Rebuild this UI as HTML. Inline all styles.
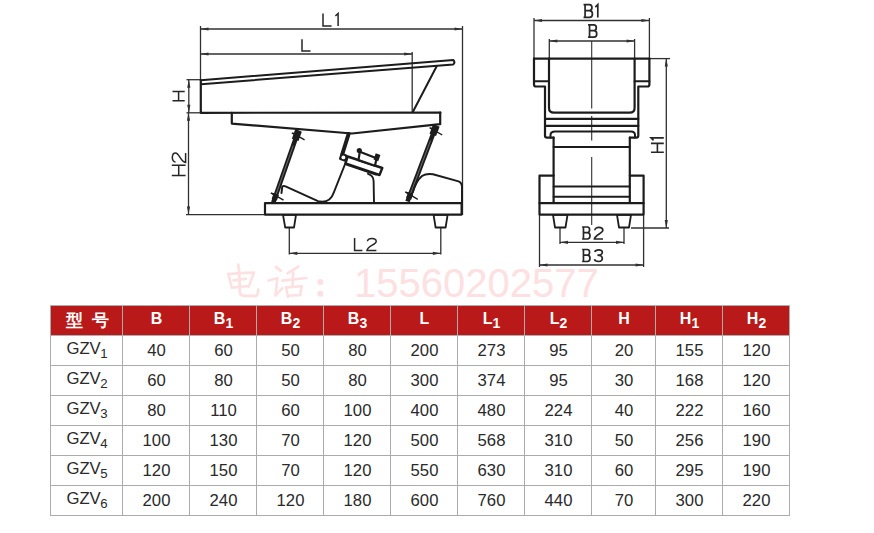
<!DOCTYPE html>
<html><head><meta charset="utf-8">
<style>
html,body{margin:0;padding:0;background:#fff;}
body{width:874px;height:533px;position:relative;overflow:hidden;font-family:"Liberation Sans",sans-serif;}
.c{position:absolute;box-sizing:border-box;text-align:center;white-space:nowrap;padding-left:2px;}
.hbg{position:absolute;background:#b91919;}
.h{color:#fff;font-weight:bold;font-size:16px;line-height:28px;}
.h sub{font-size:14px;vertical-align:-4px;line-height:0;}
.cn{font-weight:bold;font-size:16.5px;line-height:30px;}
.sp{display:inline-block;width:9px;}
.d{color:#2a2a2a;font-size:16.7px;line-height:30px;}
.d span{position:relative;top:1px;}
.g{line-height:28px;}
.d sub{font-size:13.2px;vertical-align:-4px;line-height:0;margin-left:-0.5px;}
.vl{position:absolute;width:1px;background:#ababab;}
.hl{position:absolute;height:1px;background:#ababab;}
.hl0{background:#a9b2b2;}
svg{position:absolute;left:0;top:0;}
.wm{position:absolute;left:354px;top:259px;white-space:nowrap;color:#fde0e1;line-height:48px;}
.wmc{font-family:"Liberation Serif",serif;font-size:38px;}
.wmd{font-family:"Liberation Sans",sans-serif;font-size:40px;}
</style></head><body>
<svg width="874" height="300" viewBox="0 0 874 300">
<circle cx="320.3" cy="293.7" r="3" fill="#fde0e1"/>
<circle cx="320.3" cy="282" r="3" fill="#fde0e1"/>
<path d="M288,295.8 L300,295" stroke="#fde0e1" stroke-width="2.6" fill="none" stroke-linecap="round" stroke-linejoin="round"/>
<path d="M286.2,287.4 L301.8,286.3 L300,295.3" stroke="#fde0e1" stroke-width="2.6" fill="none" stroke-linecap="round" stroke-linejoin="round"/>
<path d="M286.2,287.4 L288,297" stroke="#fde0e1" stroke-width="2.6" fill="none" stroke-linecap="round" stroke-linejoin="round"/>
<path d="M293.2,272.8 L292.6,285.6" stroke="#fde0e1" stroke-width="2.6" fill="none" stroke-linecap="round" stroke-linejoin="round"/>
<path d="M282.2,280.6 L306.4,278" stroke="#fde0e1" stroke-width="2.6" fill="none" stroke-linecap="round" stroke-linejoin="round"/>
<path d="M298.4,266.4 Q293,270.5 287.4,273.4" stroke="#fde0e1" stroke-width="2.6" fill="none" stroke-linecap="round" stroke-linejoin="round"/>
<path d="M268.6,280.6 L277.4,278.2 L275.4,295.6 L282.4,288.2" stroke="#fde0e1" stroke-width="2.6" fill="none" stroke-linecap="round" stroke-linejoin="round"/>
<path d="M276.2,267.2 L280.6,270.6" stroke="#fde0e1" stroke-width="3" fill="none" stroke-linecap="round" stroke-linejoin="round"/>
<path d="M238.2,264.6 Q239.6,272 239.8,292 Q240,295.6 244,295.8 L256,296 Q257.6,295 258.4,289.6" stroke="#fde0e1" stroke-width="2.8" fill="none" stroke-linecap="round" stroke-linejoin="round"/>
<path d="M231.8,287.6 L248.8,286" stroke="#fde0e1" stroke-width="2.6" fill="none" stroke-linecap="round" stroke-linejoin="round"/>
<path d="M233.4,280.4 L245.8,278.9" stroke="#fde0e1" stroke-width="2.6" fill="none" stroke-linecap="round" stroke-linejoin="round"/>
<path d="M228.3,274 Q241,273 254,272.6 L248.8,286.6" stroke="#fde0e1" stroke-width="2.6" fill="none" stroke-linecap="round" stroke-linejoin="round"/>
<path d="M228.3,274 L231.8,287.8" stroke="#fde0e1" stroke-width="2.6" fill="none" stroke-linecap="round" stroke-linejoin="round"/>
<line x1="200.5" y1="29" x2="462.5" y2="29" stroke="#303030" stroke-width="1.3" />
<path d="M200.5,29.0 L208.5,27.4 L208.5,30.6 Z" fill="#303030"/>
<path d="M462.5,29.0 L454.5,30.6 L454.5,27.4 Z" fill="#303030"/>
<line x1="200.5" y1="54" x2="412.2" y2="54" stroke="#303030" stroke-width="1.3" />
<path d="M200.5,54.0 L208.5,52.4 L208.5,55.6 Z" fill="#303030"/>
<path d="M412.2,54.0 L404.2,55.6 L404.2,52.4 Z" fill="#303030"/>
<line x1="200.5" y1="26" x2="200.5" y2="80" stroke="#303030" stroke-width="1.3" />
<line x1="462.5" y1="26" x2="462.5" y2="215" stroke="#303030" stroke-width="1.3" />
<line x1="412.2" y1="52" x2="412.2" y2="112.5" stroke="#303030" stroke-width="1.3" />
<line x1="186.5" y1="79.7" x2="200.5" y2="79.7" stroke="#303030" stroke-width="1.3" />
<line x1="186.5" y1="112.8" x2="200.5" y2="112.8" stroke="#303030" stroke-width="1.3" />
<line x1="188.8" y1="79.7" x2="188.8" y2="112.8" stroke="#303030" stroke-width="1.3" />
<path d="M188.8,79.7 L190.4,87.7 L187.2,87.7 Z" fill="#303030"/>
<path d="M188.8,112.8 L187.2,104.8 L190.4,104.8 Z" fill="#303030"/>
<line x1="188.5" y1="112.8" x2="188.5" y2="214.6" stroke="#303030" stroke-width="1.3" />
<path d="M188.5,112.8 L190.1,120.8 L186.9,120.8 Z" fill="#303030"/>
<path d="M188.5,214.6 L186.9,206.6 L190.1,206.6 Z" fill="#303030"/>
<line x1="186" y1="214.6" x2="265" y2="214.6" stroke="#303030" stroke-width="1.3" />
<line x1="289.3" y1="227.5" x2="289.3" y2="254.5" stroke="#303030" stroke-width="1.3" />
<line x1="440.8" y1="227.5" x2="440.8" y2="254.5" stroke="#303030" stroke-width="1.3" />
<line x1="289.3" y1="253.3" x2="440.8" y2="253.3" stroke="#303030" stroke-width="1.3" />
<path d="M289.3,253.3 L297.3,251.7 L297.3,254.9 Z" fill="#303030"/>
<path d="M440.8,253.3 L432.8,254.9 L432.8,251.7 Z" fill="#303030"/>
<path d="M200.8,80.2 L453.3,59.9 Q455.5,62.2 453.3,64.4 L201.2,84.2" stroke="#1c1c1c" stroke-width="2" fill="none" stroke-linejoin="round" stroke-linecap="round" />
<path d="M200.8,80.2 L200.8,112.8 L440.4,112.6" stroke="#1c1c1c" stroke-width="2.2" fill="none" stroke-linejoin="round" stroke-linecap="round" />
<path d="M436.8,66 L412.8,112" stroke="#1c1c1c" stroke-width="2" fill="none" stroke-linejoin="round" stroke-linecap="round" />
<path d="M231.8,112.8 L231.8,123.6 L352,133.5 L440.2,124.2 L440.2,112.6" stroke="#1c1c1c" stroke-width="2.2" fill="none" stroke-linejoin="round" stroke-linecap="round" />
<line x1="298.5" y1="130.5" x2="273.3" y2="202.5" stroke="#1c1c1c" stroke-width="4.6"/>
<line x1="293.2" y1="145.6" x2="275.9" y2="194.9" stroke="#fff" stroke-width="0.9" opacity="0.4"/>
<line x1="293.2" y1="133.4" x2="304.6" y2="139.9" stroke="#1c1c1c" stroke-width="1.4"/>
<line x1="291.8" y1="132.9" x2="298.9" y2="135.4" stroke="#1c1c1c" stroke-width="1.6"/>
<line x1="272.2" y1="193.6" x2="283.5" y2="200.1" stroke="#1c1c1c" stroke-width="1.4"/>
<line x1="270.8" y1="193.1" x2="277.8" y2="195.6" stroke="#1c1c1c" stroke-width="1.6"/>
<line x1="298.5" y1="130.5" x2="295.2" y2="139.9" stroke="#1c1c1c" stroke-width="7"/>
<line x1="276.3" y1="194.0" x2="274.3" y2="199.7" stroke="#1c1c1c" stroke-width="5.5"/>
<line x1="436.3" y1="125.5" x2="407.5" y2="201.5" stroke="#1c1c1c" stroke-width="4.6"/>
<line x1="430.6" y1="140.5" x2="410.3" y2="194.0" stroke="#fff" stroke-width="0.9" opacity="0.4"/>
<line x1="431.0" y1="128.3" x2="442.2" y2="135.0" stroke="#1c1c1c" stroke-width="1.4"/>
<line x1="429.6" y1="127.8" x2="436.6" y2="130.4" stroke="#1c1c1c" stroke-width="1.6"/>
<line x1="406.6" y1="192.6" x2="417.8" y2="199.4" stroke="#1c1c1c" stroke-width="1.4"/>
<line x1="405.2" y1="192.1" x2="412.2" y2="194.7" stroke="#1c1c1c" stroke-width="1.6"/>
<line x1="436.3" y1="125.5" x2="432.8" y2="134.9" stroke="#1c1c1c" stroke-width="7"/>
<line x1="410.7" y1="193.1" x2="408.6" y2="198.7" stroke="#1c1c1c" stroke-width="5.5"/>
<path d="M348.6,134 L342.2,154.5" stroke="#1c1c1c" stroke-width="4" fill="none" stroke-linejoin="round" stroke-linecap="round" />
<rect x="339.6" y="153.6" width="7.4" height="7.4" rx="1.5" fill="#1c1c1c" transform="rotate(20 343.3 157.3)"/>
<circle cx="343.4" cy="157.4" r="1.9" fill="#fff"/>
<path d="M347.7,156.5 L382.3,168 L379.5,175 L345.5,163.3 Z" stroke="#1c1c1c" stroke-width="2.4" fill="#fff" stroke-linejoin="round" stroke-linecap="round" />
<path d="M346.5,164.5 L376,174.5" stroke="#1c1c1c" stroke-width="2.2" fill="none" stroke-linejoin="round" stroke-linecap="round" />
<path d="M359.8,151.8 L376.5,158.2 L375,165.7 L358.5,160.1 Z" stroke="#1c1c1c" stroke-width="2.2" fill="#fff" stroke-linejoin="round" stroke-linecap="round" />
<circle cx="359.3" cy="150.6" r="2.6" fill="#1c1c1c"/>
<rect x="374.5" y="154" width="5" height="6.5" fill="#1c1c1c" transform="rotate(20 377 157.2)"/>
<path d="M368,173.8 Q373.5,175.5 373.6,181 L374,202.3" stroke="#1c1c1c" stroke-width="1.9" fill="none" stroke-linejoin="round" stroke-linecap="round" />
<path d="M281.5,193 L282.3,186.4 Q284,185.6 285.5,186.4 L318,201.2 Q330,204 334,192 L345.3,163.5" stroke="#1c1c1c" stroke-width="2" fill="none" stroke-linejoin="round" stroke-linecap="round" />
<path d="M412.8,192.5 Q416,181 422,176 Q426,173.2 433,174.2 L458.6,181.4 Q462,183 462,187 L462,202.5" stroke="#1c1c1c" stroke-width="2" fill="none" stroke-linejoin="round" stroke-linecap="round" />
<path d="M265,203.2 L461.6,203.2 L461.6,214.6 L265,214.6 Z" stroke="#1c1c1c" stroke-width="2.2" fill="none" stroke-linejoin="round" stroke-linecap="round" />
<path d="M283,214.8 L296,214.8 L294,227.5 L285.2,227.5 Z" stroke="#1c1c1c" stroke-width="1.8" fill="none" stroke-linejoin="round" stroke-linecap="round" />
<path d="M433.6,214.8 L447.6,214.8 L445.6,227.5 L435.6,227.5 Z" stroke="#1c1c1c" stroke-width="1.8" fill="none" stroke-linejoin="round" stroke-linecap="round" />
<line x1="534" y1="20.5" x2="649.4" y2="20.5" stroke="#303030" stroke-width="1.3" />
<path d="M534.0,20.5 L542.0,18.9 L542.0,22.1 Z" fill="#303030"/>
<path d="M649.4,20.5 L641.4,22.1 L641.4,18.9 Z" fill="#303030"/>
<line x1="534" y1="18" x2="534" y2="58.6" stroke="#303030" stroke-width="1.3" />
<line x1="649.4" y1="18" x2="649.4" y2="58.6" stroke="#303030" stroke-width="1.3" />
<line x1="549.3" y1="41" x2="634.6" y2="41" stroke="#303030" stroke-width="1.3" />
<path d="M549.3,41.0 L557.3,39.4 L557.3,42.6 Z" fill="#303030"/>
<path d="M634.6,41.0 L626.6,42.6 L626.6,39.4 Z" fill="#303030"/>
<line x1="549.3" y1="39" x2="549.3" y2="58.6" stroke="#303030" stroke-width="1.3" />
<line x1="634.6" y1="39" x2="634.6" y2="58.6" stroke="#303030" stroke-width="1.3" />
<line x1="591.7" y1="41" x2="591.7" y2="108.5" stroke="#303030" stroke-width="1.1" />
<line x1="591.7" y1="116" x2="591.7" y2="140.5" stroke="#303030" stroke-width="1.1" />
<line x1="591.7" y1="157" x2="591.7" y2="225" stroke="#303030" stroke-width="1.1" />
<line x1="666.3" y1="58.6" x2="666.3" y2="228" stroke="#303030" stroke-width="1.3" />
<path d="M666.3,58.6 L667.9,66.6 L664.7,66.6 Z" fill="#303030"/>
<path d="M666.3,228.0 L664.7,220.0 L667.9,220.0 Z" fill="#303030"/>
<line x1="649.4" y1="58.6" x2="670" y2="58.6" stroke="#303030" stroke-width="1.3" />
<line x1="631" y1="228" x2="669" y2="228" stroke="#303030" stroke-width="1.3" />
<line x1="560" y1="227.5" x2="560" y2="244" stroke="#303030" stroke-width="1.3" />
<line x1="624" y1="227.5" x2="624" y2="244" stroke="#303030" stroke-width="1.3" />
<line x1="560" y1="242.3" x2="624" y2="242.3" stroke="#303030" stroke-width="1.3" />
<path d="M560.0,242.3 L568.0,240.7 L568.0,243.9 Z" fill="#303030"/>
<path d="M624.0,242.3 L616.0,243.9 L616.0,240.7 Z" fill="#303030"/>
<line x1="539.5" y1="214.6" x2="539.5" y2="267" stroke="#303030" stroke-width="1.3" />
<line x1="643.6" y1="214.6" x2="643.6" y2="267" stroke="#303030" stroke-width="1.3" />
<line x1="539.5" y1="265" x2="643.6" y2="265" stroke="#303030" stroke-width="1.3" />
<path d="M539.5,265.0 L547.5,263.4 L547.5,266.6 Z" fill="#303030"/>
<path d="M643.6,265.0 L635.6,266.6 L635.6,263.4 Z" fill="#303030"/>
<path d="M534,58.6 L649.4,58.6" stroke="#1c1c1c" stroke-width="2.2" fill="none" stroke-linejoin="round" stroke-linecap="round" />
<path d="M549,58.6 L549,108 Q549,112.7 554,112.7 L629.6,112.7 Q634.6,112.7 634.6,108 L634.6,58.6" stroke="#1c1c1c" stroke-width="2.2" fill="none" stroke-linejoin="round" stroke-linecap="round" />
<path d="M534,58.6 L534,84.5 Q534,86.5 536,86.5 L545,86.5 L545,135.5 Q545,137.7 547,137.7 L553.6,137.7" stroke="#1c1c1c" stroke-width="2.2" fill="none" stroke-linejoin="round" stroke-linecap="round" />
<path d="M649.4,58.6 L649.4,84.5 Q649.4,86.5 647.4,86.5 L638.3,86.5 L638.3,135.5 Q638.3,137.7 636.3,137.7 L629.8,137.7" stroke="#1c1c1c" stroke-width="2.2" fill="none" stroke-linejoin="round" stroke-linecap="round" />
<path d="M534,81.2 L549,81.2 M634.6,81.2 L649.4,81.2" stroke="#1c1c1c" stroke-width="2" fill="none" stroke-linejoin="round" stroke-linecap="round" />
<path d="M545,118.8 L638.3,118.8 M545,125.8 L638.3,125.8" stroke="#1c1c1c" stroke-width="2.2" fill="none" stroke-linejoin="round" stroke-linecap="round" />
<path d="M550.5,137.5 L550.5,135 Q550.5,131.5 555,131.5 L631,131.5 Q635,131.5 635,135 L635,137.5" stroke="#1c1c1c" stroke-width="2" fill="none" stroke-linejoin="round" stroke-linecap="round" />
<path d="M553.6,137.7 L553.6,203 M629.8,137.7 L629.8,203" stroke="#1c1c1c" stroke-width="2.2" fill="none" stroke-linejoin="round" stroke-linecap="round" />
<path d="M553.6,146.9 L629.8,146.9 M553.6,186.6 L629.8,186.6 M553.6,196.7 L629.8,196.7" stroke="#1c1c1c" stroke-width="2" fill="none" stroke-linejoin="round" stroke-linecap="round" />
<path d="M553.6,175.6 L539.5,175.6 L539.5,214.6 L643.6,214.6 L643.6,175.6 L629.8,175.6" stroke="#1c1c1c" stroke-width="2.2" fill="none" stroke-linejoin="round" stroke-linecap="round" />
<path d="M539.5,203.2 L643.6,203.2" stroke="#1c1c1c" stroke-width="2.2" fill="none" stroke-linejoin="round" stroke-linecap="round" />
<path d="M553,214.8 L567.5,214.8 L565.5,227.5 L555,227.5 Z" stroke="#1c1c1c" stroke-width="1.8" fill="none" stroke-linejoin="round" stroke-linecap="round" />
<path d="M617,214.8 L631,214.8 L629,227.5 L619,227.5 Z" stroke="#1c1c1c" stroke-width="1.8" fill="none" stroke-linejoin="round" stroke-linecap="round" />
<path transform="translate(323,13.5)" d="M0,0 L0,12.6 L8.6,12.6" stroke="#262626" stroke-width="1.5" fill="none" stroke-linecap="butt" stroke-linejoin="miter"/>
<path transform="translate(334.5,13.5)" d="M0.90,2.52 L3.60,0 L3.60,12.6" stroke="#262626" stroke-width="1.5" fill="none" stroke-linecap="butt" stroke-linejoin="miter"/>
<path transform="translate(302,39.2)" d="M0,0 L0,11.7 L8.5,11.7" stroke="#262626" stroke-width="1.5" fill="none" stroke-linecap="butt" stroke-linejoin="miter"/>
<path transform="translate(354.6,238)" d="M0,0 L0,12.4 L7.8,12.4" stroke="#262626" stroke-width="1.5" fill="none" stroke-linecap="butt" stroke-linejoin="miter"/>
<path transform="translate(367,238)" d="M0.47,3.35 C0.47,-0.50 9.21,-0.50 9.21,3.47 C9.21,6.45 0.47,8.18 0,12.4 L9.4,12.4" stroke="#262626" stroke-width="1.5" fill="none" stroke-linecap="butt" stroke-linejoin="miter"/>
<path transform="translate(172.5,100.8) rotate(-90)" d="M0,0 L0,12.2 M9.2,0 L9.2,12.2 M0,6.10 L9.2,6.10" stroke="#262626" stroke-width="1.5" fill="none" stroke-linecap="butt" stroke-linejoin="miter"/>
<path transform="translate(171.8,175.5) rotate(-90)" d="M0,0 L0,13.8 M10.2,0 L10.2,13.8 M0,6.90 L10.2,6.90" stroke="#262626" stroke-width="1.5" fill="none" stroke-linecap="butt" stroke-linejoin="miter"/>
<path transform="translate(171.8,162.5) rotate(-90)" d="M0.48,3.73 C0.48,-0.55 9.41,-0.55 9.41,3.86 C9.41,7.18 0.48,9.11 0,13.8 L9.6,13.8" stroke="#262626" stroke-width="1.5" fill="none" stroke-linecap="butt" stroke-linejoin="miter"/>
<path transform="translate(651,152.2) rotate(-90)" d="M0,0 L0,12.8 M8.8,0 L8.8,12.8 M0,6.40 L8.8,6.40" stroke="#262626" stroke-width="1.6" fill="none" stroke-linecap="butt" stroke-linejoin="miter"/>
<path transform="translate(651,141.2) rotate(-90)" d="M0.82,2.56 L3.30,0 L3.30,12.8" stroke="#262626" stroke-width="1.6" fill="none" stroke-linecap="butt" stroke-linejoin="miter"/>
<path transform="translate(584,4.6)" d="M1.08,0 L1.08,12.8 M-0.45,0 L5.40,0 C8.82,0 8.82,6.02 5.40,6.02 L1.08,6.02 M5.40,6.02 C9.45,6.02 9.45,12.80 5.40,12.8 L-0.45,12.8" stroke="#262626" stroke-width="1.7" fill="none" stroke-linecap="butt" stroke-linejoin="miter"/>
<path transform="translate(594.5,4.6)" d="M0.82,2.56 L3.30,0 L3.30,12.8" stroke="#262626" stroke-width="1.7" fill="none" stroke-linecap="butt" stroke-linejoin="miter"/>
<path transform="translate(588.5,24.8)" d="M1.06,0 L1.06,12.4 M-0.44,0 L5.28,0 C8.62,0 8.62,5.83 5.28,5.83 L1.06,5.83 M5.28,5.83 C9.24,5.83 9.24,12.40 5.28,12.4 L-0.44,12.4" stroke="#262626" stroke-width="1.7" fill="none" stroke-linecap="butt" stroke-linejoin="miter"/>
<path transform="translate(582.5,227)" d="M0.96,0 L0.96,12 M-0.40,0 L4.80,0 C7.84,0 7.84,5.64 4.80,5.64 L0.96,5.64 M4.80,5.64 C8.40,5.64 8.40,12.00 4.80,12 L-0.40,12" stroke="#262626" stroke-width="1.7" fill="none" stroke-linecap="butt" stroke-linejoin="miter"/>
<path transform="translate(594.4,227)" d="M0.43,3.24 C0.43,-0.48 8.43,-0.48 8.43,3.36 C8.43,6.24 0.43,7.92 0,12 L8.6,12" stroke="#262626" stroke-width="1.7" fill="none" stroke-linecap="butt" stroke-linejoin="miter"/>
<path transform="translate(582.5,249.5)" d="M0.96,0 L0.96,12 M-0.40,0 L4.80,0 C7.84,0 7.84,5.64 4.80,5.64 L0.96,5.64 M4.80,5.64 C8.40,5.64 8.40,12.00 4.80,12 L-0.40,12" stroke="#262626" stroke-width="1.7" fill="none" stroke-linecap="butt" stroke-linejoin="miter"/>
<path transform="translate(594.4,249.5)" d="M0.26,2.40 C1.29,-0.24 8.17,-0.60 7.91,3.00 C7.74,5.04 5.16,5.64 3.01,5.64 C9.29,5.64 9.29,12.00 4.30,12 C2.15,12 0.43,11.40 0,9.84" stroke="#262626" stroke-width="1.7" fill="none" stroke-linecap="butt" stroke-linejoin="miter"/>
</svg>
<div class="wm"><span class="wmd">15560202577</span></div>
<div class="hbg" style="left:50px;top:305px;width:739px;height:30px"></div>
<div class="c h cn" style="left:50px;top:305px;width:72px;height:30px">型<i class="sp"></i>号</div>
<div class="c h" style="left:122px;top:305px;width:67px;height:30px">B</div>
<div class="c h" style="left:189px;top:305px;width:67px;height:30px">B<sub>1</sub></div>
<div class="c h" style="left:256px;top:305px;width:67px;height:30px">B<sub>2</sub></div>
<div class="c h" style="left:323px;top:305px;width:67px;height:30px">B<sub>3</sub></div>
<div class="c h" style="left:390px;top:305px;width:67px;height:30px">L</div>
<div class="c h" style="left:457px;top:305px;width:67px;height:30px">L<sub>1</sub></div>
<div class="c h" style="left:524px;top:305px;width:67px;height:30px">L<sub>2</sub></div>
<div class="c h" style="left:591px;top:305px;width:64px;height:30px">H</div>
<div class="c h" style="left:655px;top:305px;width:67px;height:30px">H<sub>1</sub></div>
<div class="c h" style="left:722px;top:305px;width:67px;height:30px">H<sub>2</sub></div>
<div class="c d g" style="left:50px;top:335px;width:72px;height:30px">GZV<sub>1</sub></div>
<div class="c d" style="left:122px;top:335px;width:67px;height:30px"><span>40</span></div>
<div class="c d" style="left:189px;top:335px;width:67px;height:30px"><span>60</span></div>
<div class="c d" style="left:256px;top:335px;width:67px;height:30px"><span>50</span></div>
<div class="c d" style="left:323px;top:335px;width:67px;height:30px"><span>80</span></div>
<div class="c d" style="left:390px;top:335px;width:67px;height:30px"><span>200</span></div>
<div class="c d" style="left:457px;top:335px;width:67px;height:30px"><span>273</span></div>
<div class="c d" style="left:524px;top:335px;width:67px;height:30px"><span>95</span></div>
<div class="c d" style="left:591px;top:335px;width:64px;height:30px"><span>20</span></div>
<div class="c d" style="left:655px;top:335px;width:67px;height:30px"><span>155</span></div>
<div class="c d" style="left:722px;top:335px;width:67px;height:30px"><span>120</span></div>
<div class="c d g" style="left:50px;top:365px;width:72px;height:30px">GZV<sub>2</sub></div>
<div class="c d" style="left:122px;top:365px;width:67px;height:30px"><span>60</span></div>
<div class="c d" style="left:189px;top:365px;width:67px;height:30px"><span>80</span></div>
<div class="c d" style="left:256px;top:365px;width:67px;height:30px"><span>50</span></div>
<div class="c d" style="left:323px;top:365px;width:67px;height:30px"><span>80</span></div>
<div class="c d" style="left:390px;top:365px;width:67px;height:30px"><span>300</span></div>
<div class="c d" style="left:457px;top:365px;width:67px;height:30px"><span>374</span></div>
<div class="c d" style="left:524px;top:365px;width:67px;height:30px"><span>95</span></div>
<div class="c d" style="left:591px;top:365px;width:64px;height:30px"><span>30</span></div>
<div class="c d" style="left:655px;top:365px;width:67px;height:30px"><span>168</span></div>
<div class="c d" style="left:722px;top:365px;width:67px;height:30px"><span>120</span></div>
<div class="c d g" style="left:50px;top:395px;width:72px;height:30px">GZV<sub>3</sub></div>
<div class="c d" style="left:122px;top:395px;width:67px;height:30px"><span>80</span></div>
<div class="c d" style="left:189px;top:395px;width:67px;height:30px"><span>110</span></div>
<div class="c d" style="left:256px;top:395px;width:67px;height:30px"><span>60</span></div>
<div class="c d" style="left:323px;top:395px;width:67px;height:30px"><span>100</span></div>
<div class="c d" style="left:390px;top:395px;width:67px;height:30px"><span>400</span></div>
<div class="c d" style="left:457px;top:395px;width:67px;height:30px"><span>480</span></div>
<div class="c d" style="left:524px;top:395px;width:67px;height:30px"><span>224</span></div>
<div class="c d" style="left:591px;top:395px;width:64px;height:30px"><span>40</span></div>
<div class="c d" style="left:655px;top:395px;width:67px;height:30px"><span>222</span></div>
<div class="c d" style="left:722px;top:395px;width:67px;height:30px"><span>160</span></div>
<div class="c d g" style="left:50px;top:425px;width:72px;height:30px">GZV<sub>4</sub></div>
<div class="c d" style="left:122px;top:425px;width:67px;height:30px"><span>100</span></div>
<div class="c d" style="left:189px;top:425px;width:67px;height:30px"><span>130</span></div>
<div class="c d" style="left:256px;top:425px;width:67px;height:30px"><span>70</span></div>
<div class="c d" style="left:323px;top:425px;width:67px;height:30px"><span>120</span></div>
<div class="c d" style="left:390px;top:425px;width:67px;height:30px"><span>500</span></div>
<div class="c d" style="left:457px;top:425px;width:67px;height:30px"><span>568</span></div>
<div class="c d" style="left:524px;top:425px;width:67px;height:30px"><span>310</span></div>
<div class="c d" style="left:591px;top:425px;width:64px;height:30px"><span>50</span></div>
<div class="c d" style="left:655px;top:425px;width:67px;height:30px"><span>256</span></div>
<div class="c d" style="left:722px;top:425px;width:67px;height:30px"><span>190</span></div>
<div class="c d g" style="left:50px;top:455px;width:72px;height:30px">GZV<sub>5</sub></div>
<div class="c d" style="left:122px;top:455px;width:67px;height:30px"><span>120</span></div>
<div class="c d" style="left:189px;top:455px;width:67px;height:30px"><span>150</span></div>
<div class="c d" style="left:256px;top:455px;width:67px;height:30px"><span>70</span></div>
<div class="c d" style="left:323px;top:455px;width:67px;height:30px"><span>120</span></div>
<div class="c d" style="left:390px;top:455px;width:67px;height:30px"><span>550</span></div>
<div class="c d" style="left:457px;top:455px;width:67px;height:30px"><span>630</span></div>
<div class="c d" style="left:524px;top:455px;width:67px;height:30px"><span>310</span></div>
<div class="c d" style="left:591px;top:455px;width:64px;height:30px"><span>60</span></div>
<div class="c d" style="left:655px;top:455px;width:67px;height:30px"><span>295</span></div>
<div class="c d" style="left:722px;top:455px;width:67px;height:30px"><span>190</span></div>
<div class="c d g" style="left:50px;top:485px;width:72px;height:30px">GZV<sub>6</sub></div>
<div class="c d" style="left:122px;top:485px;width:67px;height:30px"><span>200</span></div>
<div class="c d" style="left:189px;top:485px;width:67px;height:30px"><span>240</span></div>
<div class="c d" style="left:256px;top:485px;width:67px;height:30px"><span>120</span></div>
<div class="c d" style="left:323px;top:485px;width:67px;height:30px"><span>180</span></div>
<div class="c d" style="left:390px;top:485px;width:67px;height:30px"><span>600</span></div>
<div class="c d" style="left:457px;top:485px;width:67px;height:30px"><span>760</span></div>
<div class="c d" style="left:524px;top:485px;width:67px;height:30px"><span>440</span></div>
<div class="c d" style="left:591px;top:485px;width:64px;height:30px"><span>70</span></div>
<div class="c d" style="left:655px;top:485px;width:67px;height:30px"><span>300</span></div>
<div class="c d" style="left:722px;top:485px;width:67px;height:30px"><span>220</span></div>
<div class="vl" style="left:50px;top:305px;height:211px"></div>
<div class="vl" style="left:122px;top:305px;height:211px"></div>
<div class="vl" style="left:189px;top:305px;height:211px"></div>
<div class="vl" style="left:256px;top:305px;height:211px"></div>
<div class="vl" style="left:323px;top:305px;height:211px"></div>
<div class="vl" style="left:390px;top:305px;height:211px"></div>
<div class="vl" style="left:457px;top:305px;height:211px"></div>
<div class="vl" style="left:524px;top:305px;height:211px"></div>
<div class="vl" style="left:591px;top:305px;height:211px"></div>
<div class="vl" style="left:655px;top:305px;height:211px"></div>
<div class="vl" style="left:722px;top:305px;height:211px"></div>
<div class="vl" style="left:789px;top:305px;height:211px"></div>
<div class="hl hl0" style="left:50px;top:305px;width:740px"></div>
<div class="hl hl0" style="left:50px;top:335px;width:740px"></div>
<div class="hl" style="left:50px;top:365px;width:740px"></div>
<div class="hl" style="left:50px;top:395px;width:740px"></div>
<div class="hl" style="left:50px;top:425px;width:740px"></div>
<div class="hl" style="left:50px;top:455px;width:740px"></div>
<div class="hl" style="left:50px;top:485px;width:740px"></div>
<div class="hl" style="left:50px;top:515px;width:740px"></div>
</body></html>
